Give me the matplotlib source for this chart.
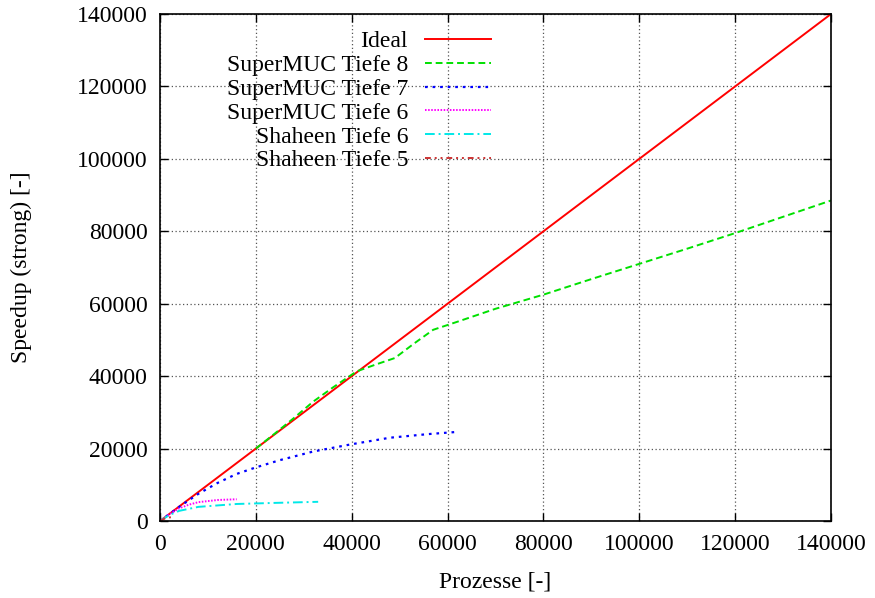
import matplotlib
matplotlib.use('Agg')
import matplotlib.pyplot as plt

# Prozesse / Speedup
ideal_x = [0, 140000]
ideal_y = [0, 140000]

smuc8_x = [20000, 24000, 28000, 32000, 36000, 41000, 45000, 49000, 53000, 57000, 62000,
           70000, 80000, 90000, 100000, 110000, 120000, 130000, 140000]
smuc8_y = [20000, 24200, 28500, 33000, 36800, 41300, 43200, 45000, 49000, 52800, 55000,
           58600, 62500, 66800, 71000, 75200, 79500, 84000, 88500]

smuc7_x = [0, 4000, 8000, 12000, 16000, 20000, 25000, 32000, 40000, 48000, 56000, 62000]
smuc7_y = [0, 3900, 7500, 10500, 13000, 14800, 16800, 19200, 21200, 23000, 24000, 24600]

smuc6_x = [0, 2000, 4000, 6000, 8000, 12000, 16000]
smuc6_y = [0, 1900, 3500, 4500, 5200, 5800, 6000]

shaheen6_x = [0, 2000, 4000, 8000, 12000, 16000, 24000, 33000]
shaheen6_y = [0, 1700, 2800, 3900, 4300, 4700, 5000, 5300]

shaheen5_x = [0, 1000, 2000, 3000]
shaheen5_y = [0, 700, 1000, 1100]

labels = ['Ideal', 'SuperMUC Tiefe 8', 'SuperMUC Tiefe 7', 'SuperMUC Tiefe 6',
          'Shaheen Tiefe 6', 'Shaheen Tiefe 5']
ticks = [0, 20000, 40000, 60000, 80000, 100000, 120000, 140000]

plt.rcParams['font.family'] = ['Liberation Serif', 'DejaVu Serif']
plt.rcParams['font.size'] = 17

fig = plt.figure(figsize=(8.75, 5.98), dpi=100)
ax = fig.add_axes([160 / 875, 77 / 598, 671 / 875, 507 / 598])

ax.plot(ideal_x, ideal_y, color='#ff0000', lw=1.4, label=labels[0])
ax.plot(smuc8_x, smuc8_y, color='#00e000', lw=1.4, dashes=(3.5, 2), label=labels[1])
ax.plot(smuc7_x, smuc7_y, color='#0000ff', lw=1.6, dashes=(1.2, 2.2), label=labels[2])
ax.plot(smuc6_x, smuc6_y, color='#ff00ff', lw=1.4, dashes=(0.8, 0.8), label=labels[3])
ax.plot(shaheen6_x, shaheen6_y, color='#00e8e8', lw=1.4, dashes=(5, 2, 1, 2), label=labels[4])
ax.plot(shaheen5_x, shaheen5_y, color='#cc3333', lw=1.4, dashes=(3, 2, 1, 2, 1, 2), label=labels[5])

ax.set_xlim(0, 140000)
ax.set_ylim(0, 140000)
ax.set_xticks(ticks)
ax.set_yticks(ticks)
ax.tick_params(direction='in', length=6, width=1, top=True, right=True, pad=9)
ax.grid(True, color='#555555', linestyle=(0, (1, 2)), linewidth=0.9)
for s in ax.spines.values():
    s.set_linewidth(1.2)

ax.set_xlabel('Prozesse [-]', labelpad=12)
ax.set_ylabel('Speedup (strong) [-]', labelpad=32)

leg = ax.legend(loc='upper left', bbox_to_anchor=(0.075, 1.0), markerfirst=False,
                frameon=False, handlelength=2.8, handletextpad=0.7,
                labelspacing=0.1, borderaxespad=0.3)

fig.savefig('out.png', dpi=100)
